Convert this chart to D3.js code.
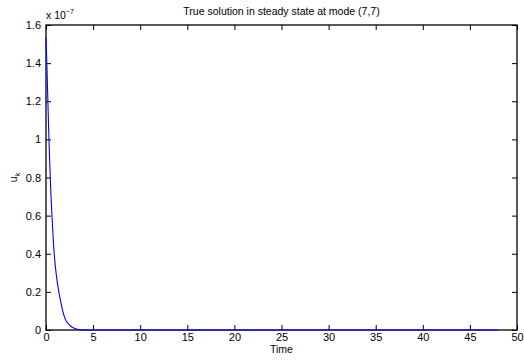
<!DOCTYPE html>
<html>
<head>
<meta charset="utf-8">
<script src="https://cdn.jsdelivr.net/npm/d3@7"></script>
<style>
  html, body { margin: 0; padding: 0; background: #fff; }
  svg { display: block; font-family: "Liberation Sans", Arial, sans-serif; }
</style>
</head>
<body>
<svg id="chart" width="524" height="362"></svg>
<script>
// Time samples and mode amplitude u_k (in units of 1e-7)
const time = [0, 0.1, 0.2, 0.3, 0.4, 0.5, 0.6, 0.8, 1.0, 1.2, 1.4, 1.6, 1.8, 2.0, 2.5, 3.0, 3.5, 4.0, 5, 10, 20, 30, 40, 48];
const uk   = [1.53, 1.38, 1.2, 1.02, 0.87, 0.74, 0.63, 0.45, 0.33, 0.25, 0.19, 0.14, 0.095, 0.062, 0.026, 0.009, 0.002, 0, 0, 0, 0, 0, 0, 0];

const xTicks = [0, 5, 10, 15, 20, 25, 30, 35, 40, 45, 50];
const yTicks = [0, 0.2, 0.4, 0.6, 0.8, 1, 1.2, 1.4, 1.6];

const titleText = "True solution in steady state at mode (7,7)";
const xLabel = "Time";

const margin = { left: 46, top: 25, right: 7, bottom: 32 };
const W = 524, H = 362;
const pw = W - margin.left - margin.right;
const ph = H - margin.top - margin.bottom;

const svg = d3.select("#chart");
const g = svg.append("g").attr("transform", `translate(${margin.left},${margin.top})`);

const x = d3.scaleLinear().domain([0, 50]).range([0, pw]);
const y = d3.scaleLinear().domain([0, 1.6]).range([ph, 0]);

const fmt = d => String(d);
const tickLen = 5;

// Bottom and left axes with inward ticks
const xAxis = g.append("g").attr("transform", `translate(0,${ph})`)
  .call(d3.axisBottom(x).tickValues(xTicks).tickFormat(fmt).tickSizeInner(-tickLen).tickSizeOuter(0).tickPadding(3));
const yAxis = g.append("g")
  .call(d3.axisLeft(y).tickValues(yTicks).tickFormat(fmt).tickSizeInner(-tickLen).tickSizeOuter(0).tickPadding(5));
// Mirrored top and right ticks
const xTop = g.append("g")
  .call(d3.axisTop(x).tickValues(xTicks).tickFormat("").tickSizeInner(-tickLen).tickSizeOuter(0));
const yRight = g.append("g").attr("transform", `translate(${pw},0)`)
  .call(d3.axisRight(y).tickValues(yTicks).tickFormat("").tickSizeInner(-tickLen).tickSizeOuter(0));

[xAxis, yAxis, xTop, yRight].forEach(a => {
  a.select(".domain").remove();
  a.selectAll("line").attr("stroke", "#000").attr("stroke-width", 1);
  a.selectAll("text").attr("fill", "#000").style("font-size", "11px")
    .style("font-family", "'Liberation Sans', Arial, sans-serif");
});

// Box
g.append("rect").attr("x", 0).attr("y", 0).attr("width", pw).attr("height", ph)
  .attr("fill", "none").attr("stroke", "#000").attr("stroke-width", 1.3);

// Curve
const line = d3.line().x((d, i) => x(time[i])).y(d => y(d)).curve(d3.curveMonotoneX);
g.append("path").datum(uk).attr("d", line)
  .attr("fill", "none").attr("stroke", "#0000ff").attr("stroke-width", 1.1);

// Title
svg.append("text").attr("x", margin.left + pw / 2).attr("y", 15)
  .attr("text-anchor", "middle").style("font-size", "10.5px").text(titleText);

// Exponent label
const ex = svg.append("text").attr("x", margin.left).attr("y", 19).style("font-size", "10.5px");
ex.append("tspan").text("x 10");
ex.append("tspan").attr("dy", -5).style("font-size", "7px").text("\u22127");

// Axis labels
svg.append("text").attr("x", margin.left + pw / 2).attr("y", 353)
  .attr("text-anchor", "middle").style("font-size", "10.5px").text(xLabel);

const yl = svg.append("text")
  .attr("transform", `translate(17,${margin.top + ph / 2}) rotate(-90)`)
  .attr("text-anchor", "middle").style("font-size", "10.5px");
yl.append("tspan").text("u");
yl.append("tspan").attr("dy", 3).style("font-size", "7px").text("k");
</script>
</body>
</html>
